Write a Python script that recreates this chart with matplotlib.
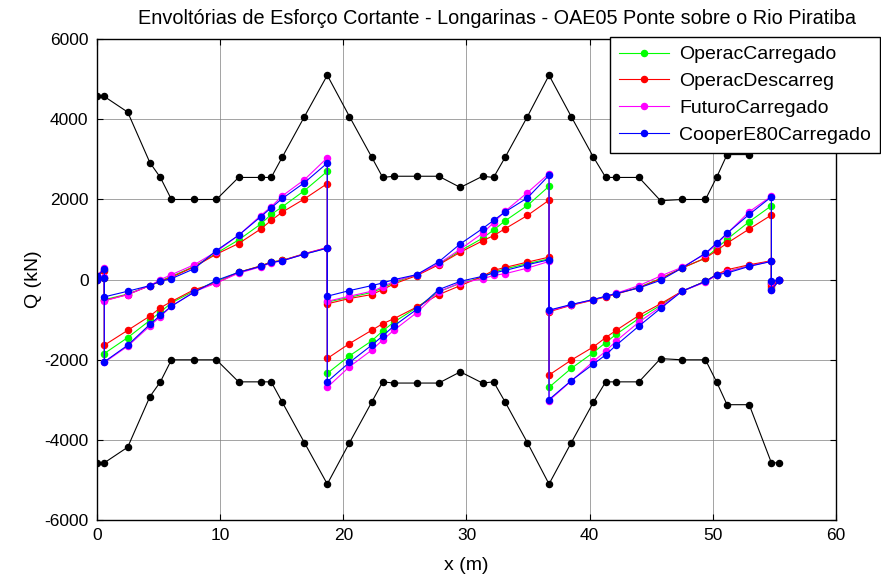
import matplotlib
matplotlib.use("Agg")
import matplotlib.pyplot as plt

# abscissas of the shear envelope points (supports appear twice: left/right value)
x_q = [0, 0.6, 0.6, 2.5, 4.3, 5.15, 6.05, 7.9, 9.7, 11.5, 13.3, 14.15, 15.05,
       16.85, 18.7, 18.7, 20.5, 22.3, 23.2, 24.1, 25.95, 27.75, 29.5, 31.3,
       32.2, 33.15, 34.95, 36.7, 36.7, 38.5, 40.3, 41.3, 42.15, 44.0, 45.75,
       47.5, 49.4, 50.3, 51.15, 52.95, 54.75, 54.75, 55.4]

operac_carr_max = [80, 240, -500, -360, -149, -30, 80, 330, 660, 990, 1388,
                   1628, 1818, 2223, 2702, -560, -440, -320, -210, -70, 124,
                   390, 720, 1033, 1240, 1471, 1851, 2330, -780, -630, -500,
                   -420, -350, -190, 30, 290, 540, 780, 1008, 1446, 1843, -80,
                   -20]
operac_carr_min = [0, 40, -1843, -1446, -1016, -810, -578, -280, -40, 182, 340,
                   440, 480, 640, 790, -2339, -1901, -1529, -1281, -1060, -700,
                   -300, -90, 60, 190, 270, 400, 520, -2686, -2215, -1818,
                   -1570, -1364, -967, -640, -289, -41, 124, 200, 350, 465,
                   -200, -20]

operac_desc_max = [70, 220, -520, -372, -149, -41, 60, 320, 636, 901, 1264,
                   1479, 1686, 2016, 2397, -603, -471, -372, -248, -107, 100,
                   372, 686, 967, 1099, 1273, 1603, 1983, -800, -640, -510,
                   -430, -360, -200, 20, 290, 537, 727, 909, 1264, 1612, -100,
                   -20]
operac_desc_min = [0, 30, -1636, -1264, -909, -702, -545, -248, -83, 182, 345,
                   440, 480, 650, 800, -1967, -1595, -1264, -1099, -975, -686,
                   -372, -149, 83, 231, 306, 438, 562, -2380, -2008, -1678,
                   -1446, -1264, -892, -603, -289, -41, 124, 248, 372, 471,
                   -170, -20]

futuro_carr_max = [100, 300, -530, -372, -149, 0, 124, 372, 700, 1107, 1600,
                   1820, 2090, 2496, 3041, -540, -413, -289, -182, -40, 124,
                   400, 760, 1157, 1421, 1711, 2173, 2645, -780, -630, -500,
                   -420, -340, -149, 90, 310, 640, 880, 1150, 1694, 2083, -60,
                   -20]
futuro_carr_min = [0, 60, -2066, -1660, -1157, -920, -661, -300, -83, 160, 320,
                   420, 470, 640, 800, -2686, -2173, -1760, -1504, -1264, -826,
                   -300, -80, 17, 107, 149, 289, 455, -3016, -2530, -2041,
                   -1785, -1529, -1058, -680, -289, -60, 110, 200, 340, 460,
                   -260, -20]

cooper_max = [90, 260, -430, -289, -149, -41, 25, 273, 727, 1107, 1570, 1793,
              2025, 2421, 2909, -413, -273, -149, -83, 0, 124, 446, 893, 1273,
              1479, 1694, 2041, 2603, -760, -620, -496, -413, -347, -207, -17,
              290, 661, 909, 1157, 1628, 2066, -40, -20]
cooper_min = [0, 50, -2050, -1636, -1116, -892, -661, -314, -17, 182, 331, 430,
              471, 636, 785, -2545, -2066, -1636, -1405, -1157, -744, -248,
              -41, 83, 165, 231, 372, 496, -2992, -2520, -2107, -1876, -1636,
              -1157, -719, -289, -41, 124, 165, 331, 455, -250, -20]

# resistance envelope (black), lower branch is the mirror of the upper one
x_env = [0, 0.6, 2.5, 4.3, 5.15, 6.05, 7.9, 9.7, 11.5, 13.3, 14.15, 15.05,
         16.85, 18.7, 20.5, 22.3, 23.2, 24.1, 25.95, 27.75, 29.5, 31.3, 32.2,
         33.15, 34.95, 36.7, 38.5, 40.3, 41.3, 42.15, 44.0, 45.75, 47.5, 49.4,
         50.3, 51.15, 52.95, 54.75, 55.4]
q_env = [4570, 4570, 4180, 2920, 2550, 2000, 2000, 2000, 2550, 2550, 2550,
         3060, 4070, 5100, 4070, 3060, 2550, 2580, 2580, 2580, 2300, 2580,
         2550, 3060, 4070, 5100, 4070, 3060, 2550, 2550, 2550, 1970, 2000,
         2000, 2550, 3120, 3120, 4570, 4570]

series = [
    ("OperacCarregado", operac_carr_max, operac_carr_min, "#00ff00"),
    ("OperacDescarreg", operac_desc_max, operac_desc_min, "#ff0000"),
    ("FuturoCarregado", futuro_carr_max, futuro_carr_min, "#ff00ff"),
    ("CooperE80Carregado", cooper_max, cooper_min, "#0000ff"),
]

plt.rcParams.update({
    "font.family": ["Liberation Sans", "DejaVu Sans"],
    "font.size": 12,
    "axes.unicode_minus": False,
    "xtick.direction": "in",
    "ytick.direction": "in",
    "xtick.top": True,
    "ytick.right": True,
})


def main():
    fig = plt.figure(figsize=(8.81, 5.76), dpi=100)
    ax = fig.add_axes([0.110, 0.097, 0.839, 0.835])

    for name, qmax, qmin, col in series:
        ax.plot(x_q, qmax, "-o", color=col, lw=0.8, ms=4.4, label=name)
        ax.plot(x_q, qmin, "-o", color=col, lw=0.8, ms=4.4)

    ax.plot(x_env, q_env, "-o", color="k", lw=0.8, ms=4.4)
    ax.plot(x_env, [-q for q in q_env], "-o", color="k", lw=0.8, ms=4.4)

    ax.set_xlim(0, 60)
    ax.set_ylim(-6000, 6000)
    ax.set_xticks(range(0, 61, 10))
    ax.set_yticks(range(-6000, 6001, 2000))
    ax.grid(True, color="#7f7f7f", lw=0.5)
    ax.set_axisbelow(True)
    for s in ax.spines.values():
        s.set_linewidth(1.0)
    ax.tick_params(length=4, width=0.8, labelsize=12.5, pad=6)

    # title sits slightly right of the axes centre in the original export
    fig.text(497 / 881, 1 - 18 / 576,
             "Envoltórias de Esforço Cortante - Longarinas - OAE05 Ponte sobre o Rio Piratiba",
             fontsize=14.3, ha="center", va="center")
    ax.set_xlabel("x (m)", fontsize=14, labelpad=10)
    ax.set_ylabel("Q (kN)", fontsize=14, labelpad=2)

    leg = ax.legend(loc="upper left", bbox_to_anchor=(610 / 881, 1 - 37 / 576),
                    bbox_transform=fig.transFigure, fancybox=False,
                    framealpha=1, edgecolor="k", borderpad=0.45,
                    handlelength=2.6, handletextpad=0.5, labelspacing=0.48,
                    fontsize=14, borderaxespad=0)
    leg.get_frame().set_linewidth(1.0)

    fig.savefig("out.png", dpi=100, facecolor="white")
    plt.close(fig)


if __name__ == "__main__":
    main()
